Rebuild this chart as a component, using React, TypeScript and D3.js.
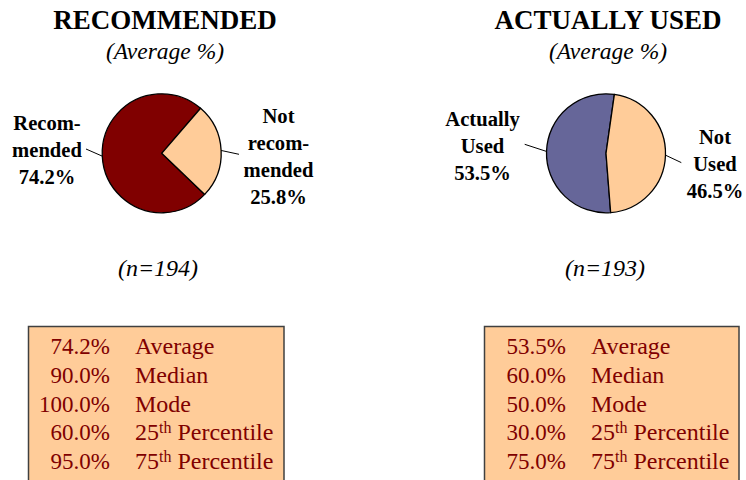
import React from "react";
import * as d3 from "d3";

const leftTitle = "RECOMMENDED";
const rightTitle = "ACTUALLY USED";
const subtitle = "(Average %)";

const leftCategories = ["Recom-\nmended", "Not\nrecom-\nmended"];
const leftValues = [74.2, 25.8];
const leftN = 194;

const rightCategories = ["Actually\nUsed", "Not\nUsed"];
const rightValues = [53.5, 46.5];
const rightN = 193;

const statLabels = ["Average", "Median", "Mode", "25th Percentile", "75th Percentile"];
const leftStats = [74.2, 90.0, 100.0, 60.0, 95.0];
const rightStats = [53.5, 60.0, 50.0, 30.0, 75.0];

const FONT = "Liberation Serif";
const DARK_RED = "#800000";
const PEACH = "#FFCC99";
const SLATE = "#666699";

type LabelSpec = { x: number; y0: number; end: [number, number] };

function Pie({
  cx, cy, r, values, names, colors, startDeg, labels,
}: {
  cx: number; cy: number; r: number; values: number[]; names: string[]; colors: string[]; startDeg: number; labels: LabelSpec[];
}) {
  const start = (startDeg * Math.PI) / 180;
  const pie = d3.pie<number>().sort(null).startAngle(start).endAngle(start + 2 * Math.PI);
  const arcs = pie(values);
  const arc = d3.arc<d3.PieArcDatum<number>>().innerRadius(0).outerRadius(r);
  return (
    <g>
      <g transform={`translate(${cx},${cy})`}>
        {arcs.map((a, i) => (
          <path key={i} d={arc(a) || ""} fill={colors[i]} stroke="#000" strokeWidth={1.3} strokeLinejoin="round" />
        ))}
        {arcs.map((a, i) => {
          const mid = (a.startAngle + a.endAngle) / 2;
          const px = Math.sin(mid) * r;
          const py = -Math.cos(mid) * r;
          const L = labels[i];
          return <line key={"l" + i} x1={px} y1={py} x2={L.end[0]} y2={L.end[1]} stroke="#000" strokeWidth={1} />;
        })}
      </g>
      {labels.map((L, i) => {
        const lines = [...names[i].split("\n"), `${values[i].toFixed(1)}%`];
        return (
          <text key={"t" + i} x={L.x} textAnchor="middle" fontWeight="bold" fontSize={20.6} fill="#000" style={{ fontFamily: FONT }}>
            {lines.map((ln, j) => (
              <tspan key={j} x={L.x} y={L.y0 + j * 27}>{ln}</tspan>
            ))}
          </text>
        );
      })}
    </g>
  );
}

function StatBox({
  x, y, w, h, values, valueX, labelX,
}: { x: number; y: number; w: number; h: number; values: number[]; valueX: number; labelX: number }) {
  const rowY = d3.scaleLinear().domain([0, 1]).range([354, 382.8]);
  return (
    <g>
      <rect x={x} y={y} width={w} height={h} fill={PEACH} stroke="#404040" strokeWidth={1.5} />
      {values.map((v, i) => {
        const lab = statLabels[i];
        const m = lab.match(/^(\d+)(th)(.*)$/);
        return (
          <g key={i} fill={DARK_RED}>
            <text x={valueX} y={rowY(i)} textAnchor="end" fontSize={23} style={{ fontFamily: FONT }}>{d3.format(".1f")(v) + "%"}</text>
            <text x={labelX} y={rowY(i)} fontSize={24} style={{ fontFamily: FONT }}>
              {m ? (
                <>
                  {m[1]}
                  <tspan fontSize={16} dy={-7}>{m[2]}</tspan>
                  <tspan dy={7}>{m[3]}</tspan>
                </>
              ) : lab}
            </text>
          </g>
        );
      })}
    </g>
  );
}

export default function App() {
  const lcx = 161.7, rcx = 606;
  const cy = 153.3;
  const r = 59.5;
  const f = { fontFamily: FONT };
  return (
    <svg width={746} height={480} style={{ position: "absolute", left: 0, top: 0, background: "#fff", fontFamily: FONT }}>
      <text x={165} y={29} textAnchor="middle" fontWeight="bold" fontSize={27} style={f}>{leftTitle}</text>
      <text x={608} y={29} textAnchor="middle" fontWeight="bold" fontSize={27} style={f}>{rightTitle}</text>
      <text x={165} y={59} textAnchor="middle" fontStyle="italic" fontSize={23.5} style={f}>{subtitle}</text>
      <text x={608} y={59} textAnchor="middle" fontStyle="italic" fontSize={23.5} style={f}>{subtitle}</text>

      <Pie
        cx={lcx} cy={cy} r={r} values={leftValues} names={leftCategories} colors={[DARK_RED, PEACH]} startDeg={133.7}
        labels={[
          { x: 47, y0: 130, end: [-75.7, -4.3] },
          { x: 278.5, y0: 123, end: [77.3, 1] },
        ]}
      />
      <Pie
        cx={rcx} cy={cy} r={r} values={rightValues} names={rightCategories} colors={[SLATE, PEACH]} startDeg={175.5}
        labels={[
          { x: 482.5, y0: 126, end: [-81.3, -9] },
          { x: 715, y0: 144, end: [75.3, 9.3] },
        ]}
      />

      <text x={158} y={276} textAnchor="middle" fontStyle="italic" fontSize={24} style={f}>{`(n=${leftN})`}</text>
      <text x={605} y={276} textAnchor="middle" fontStyle="italic" fontSize={24} style={f}>{`(n=${rightN})`}</text>

      <StatBox x={28.5} y={326.5} w={255.5} h={170} values={leftStats} valueX={110} labelX={135} />
      <StatBox x={484.5} y={326.5} w={254.5} h={170} values={rightStats} valueX={566} labelX={591} />
    </svg>
  );
}
